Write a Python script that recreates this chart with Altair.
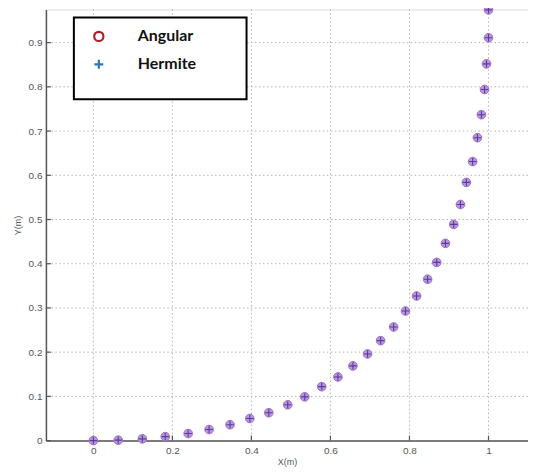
import altair as alt
import pandas as pd

# Data
x_vals = [0.0, 0.063, 0.124, 0.182, 0.240, 0.293, 0.346, 0.396, 0.444, 0.492,
          0.535, 0.578, 0.619, 0.657, 0.694, 0.727, 0.760, 0.790, 0.818, 0.846,
          0.869, 0.891, 0.912, 0.929, 0.944, 0.960, 0.972, 0.982, 0.990, 0.995,
          1.0, 1.0]
y_vals = [0.0, 0.001, 0.004, 0.009, 0.016, 0.025, 0.036, 0.050, 0.063, 0.081,
          0.099, 0.122, 0.144, 0.169, 0.196, 0.226, 0.257, 0.293, 0.327, 0.365,
          0.403, 0.446, 0.489, 0.534, 0.584, 0.631, 0.685, 0.737, 0.794, 0.852,
          0.911, 0.974]
x_ticks = [0, 0.2, 0.4, 0.6, 0.8, 1.0]
y_ticks = [0, 0.1, 0.2, 0.3, 0.4, 0.5, 0.6, 0.7, 0.8, 0.9]
legend_labels = ["Angular", "Hermite"]

W, H = 483, 432
XDOM = [-0.12, 1.1]
YDOM = [0, 0.975]

df = pd.DataFrame({"x": x_vals, "y": y_vals})
xt = pd.DataFrame({"x": x_ticks})
yt = pd.DataFrame({"y": y_ticks})
grid_y = pd.DataFrame({"y": y_ticks[1:]})

xs = alt.Scale(domain=XDOM, nice=False, zero=False)
ys = alt.Scale(domain=YDOM, nice=False, zero=False)

label_font = "Liberation Sans"
axis_col = "#555555"

x_axis = alt.Axis(values=x_ticks, format=".1~f", grid=False, ticks=False,
                  domainColor=axis_col, domainWidth=1.5,
                  labelFont=label_font, labelFontSize=10, labelColor=axis_col,
                  labelPadding=5, titleFont=label_font, titleFontSize=9,
                  titleFontWeight="normal", titleColor=axis_col, titlePadding=2)
y_axis = alt.Axis(values=y_ticks, format=".1~f", grid=False, ticks=False,
                  domainColor=axis_col, domainWidth=1.5,
                  labelFont=label_font, labelFontSize=10, labelColor=axis_col,
                  labelPadding=4, titleFont=label_font, titleFontSize=9,
                  titleFontWeight="normal", titleColor=axis_col, titlePadding=6)

# grid lines (dotted)
gx = alt.Chart(xt).mark_rule(stroke="#b4b4b4", strokeDash=[1.5, 2.5], strokeWidth=1).encode(
    x=alt.X("x:Q", scale=xs, title="X(m)", axis=x_axis))
gy = alt.Chart(grid_y).mark_rule(stroke="#b4b4b4", strokeDash=[1.5, 2.5], strokeWidth=1).encode(
    y=alt.Y("y:Q", scale=ys, title="Y(m)", axis=y_axis))

# inward tick marks
tx = alt.Chart(xt).mark_rule(stroke=axis_col, strokeWidth=1.2).encode(
    x=alt.X("x:Q", scale=xs), y=alt.value(H), y2=alt.value(H - 5))
ty = alt.Chart(yt).mark_rule(stroke=axis_col, strokeWidth=1.2).encode(
    y=alt.Y("y:Q", scale=ys), x=alt.value(0), x2=alt.value(5))

# data markers
ang = alt.Chart(df).mark_point(shape="circle", filled=True, fill="#b896dc", stroke="#9a70cc",
                               strokeWidth=1, size=75, opacity=1).encode(
    x=alt.X("x:Q", scale=xs), y=alt.Y("y:Q", scale=ys))
her = alt.Chart(df).mark_point(shape="M-1,0L1,0M0,-1L0,1", filled=False, stroke="#5b3a9c",
                               strokeWidth=1.1, size=55, opacity=1).encode(
    x=alt.X("x:Q", scale=xs), y=alt.Y("y:Q", scale=ys))

# legend box
leg_a = pd.DataFrame({"label": [legend_labels[0]]})
leg_h = pd.DataFrame({"label": [legend_labels[1]]})
box = alt.Chart(leg_a).mark_rect(fill="white", stroke="black", strokeWidth=2).encode(
    x=alt.value(28), x2=alt.value(201), y=alt.value(8), y2=alt.value(90))
sym_a = alt.Chart(leg_a).mark_point(
    shape="circle", filled=False, stroke="#b0202c", strokeWidth=2.2, size=85, opacity=1).encode(
    x=alt.value(53), y=alt.value(27))
sym_h = alt.Chart(leg_h).mark_point(
    shape="M-1,0L1,0M0,-1L0,1", filled=False, stroke="#2a78b8", strokeWidth=2.2, size=80,
    opacity=1).encode(x=alt.value(53), y=alt.value(55))
txt_a = alt.Chart(leg_a).mark_text(align="left", baseline="middle", font="Lato",
                                   fontWeight="bold", fontSize=16, color="#111111").encode(
    x=alt.value(92), y=alt.value(27), text="label:N")
txt_h = alt.Chart(leg_h).mark_text(align="left", baseline="middle", font="Lato",
                                   fontWeight="bold", fontSize=16, color="#111111").encode(
    x=alt.value(92), y=alt.value(55), text="label:N")

chart = alt.layer(gx, gy, tx, ty, ang, her, box, sym_a, sym_h, txt_a, txt_h).properties(
    width=W, height=H,
    autosize=alt.AutoSizeParams(type="none"),
    padding={"left": 38, "top": 1, "right": 0, "bottom": 30},
).configure_view(stroke=None).configure(background="white")

chart.save("out.html", embed_options={"renderer": "svg", "actions": False})
